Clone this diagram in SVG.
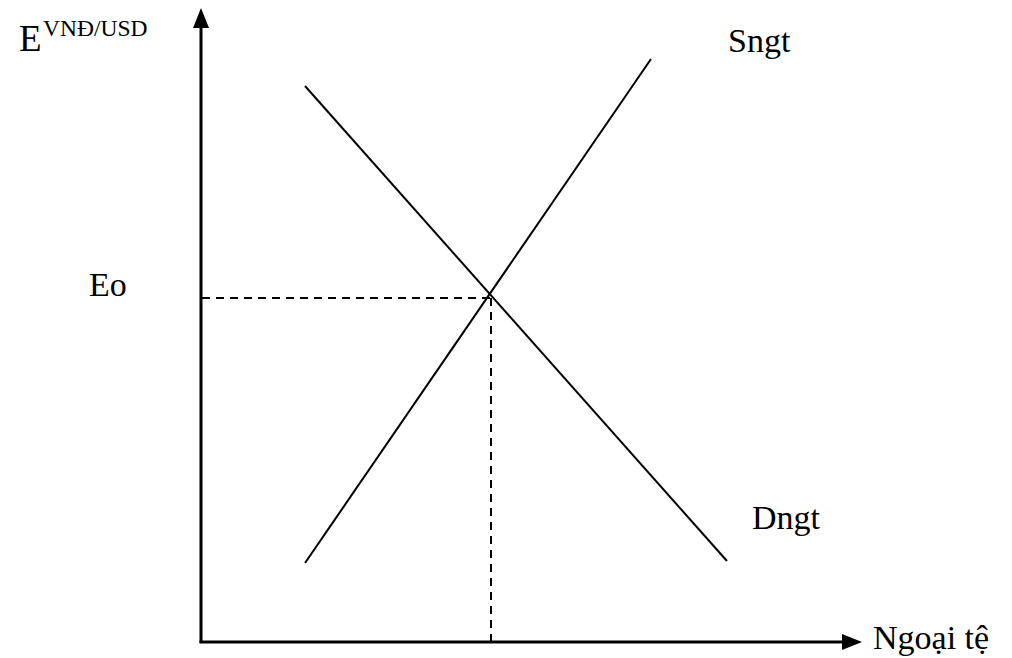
<svg xmlns="http://www.w3.org/2000/svg" width="1012" height="658" viewBox="0 0 1012 658">
<style>
text{font-family:'Liberation Serif','Times New Roman',serif;fill:#000;font-size:34px}
text.big{font-size:37px}
text.sup{font-size:23.5px}
.ax{stroke:#000;stroke-width:3;fill:none}
.ln{stroke:#000;stroke-width:2;fill:none}
.ds{stroke:#000;stroke-width:2;fill:none;stroke-dasharray:8,6}
</style>
<rect width="1012" height="658" fill="#fff"/>
<g id="connectors">
<line class="ax" x1="201" y1="643" x2="201" y2="26"/>
<polygon points="201,8 193,28 209,28" fill="#000"/>
<line class="ax" x1="199.5" y1="642" x2="843" y2="642"/>
<polygon points="862,642 842,634 842,650" fill="#000"/>
<line id="dngt-line" class="ln" x1="305" y1="86" x2="727" y2="561"/>
<line id="sngt-line" class="ln" x1="305" y1="563" x2="651" y2="59"/>
<line class="ds" x1="202" y1="298" x2="490" y2="298"/>
<line class="ds" x1="491" y1="298" x2="491" y2="641"/>
</g>
<g id="label-e"><text class="big" x="19" y="51">E</text><text class="sup" x="43" y="36">VNĐ/USD</text></g>
<g id="label-sngt"><text x="728" y="52">Sngt</text></g>
<g id="label-eo"><text x="89" y="296">Eo</text></g>
<g id="label-dngt"><text x="752" y="529">Dngt</text></g>
<g id="label-ngoaite"><text x="873" y="649">Ngoại tệ</text></g>
</svg>
